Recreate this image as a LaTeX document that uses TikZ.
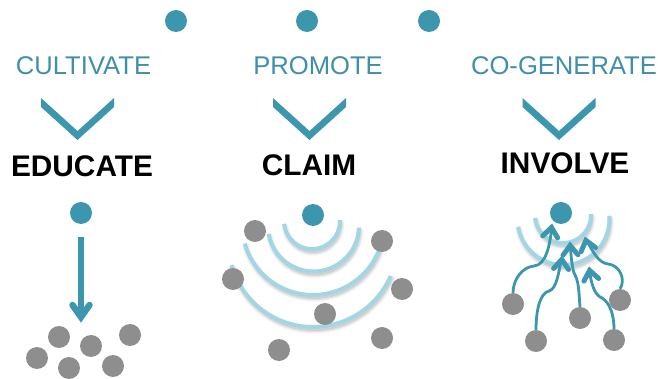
\documentclass[tikz,border=0pt]{standalone}
\usepackage{fontspec}
\setmainfont{Liberation Sans}
\definecolor{teal1}{HTML}{3C97AE}
\definecolor{tealtext}{HTML}{3F8FA8}
\definecolor{grey1}{HTML}{8E8E8E}
\definecolor{lightb}{HTML}{A3D6E4}
\tikzset{
  tealdot/.style={circle,fill=teal1,inner sep=0pt,minimum size=22pt},
  greydot/.style={circle,fill=grey1,inner sep=0pt,minimum size=22pt},
  toplabel/.style={text=tealtext,font=\fontsize{25.6}{28}\selectfont,inner sep=0pt},
  mainlabel/.style={text=black,font=\fontsize{29.8}{32}\selectfont\bfseries,inner sep=0pt},
  chevron/.style={fill=teal1,draw=none},
  bigarrow/.style={draw=teal1,line width=6pt,shorten >=7pt},
  curvearrow/.style={draw=teal1,line width=2.8pt,shorten >=4pt},
  bighead/.style={draw=teal1,line width=6.5pt,line cap=round,miter limit=10},
  smallhead/.style={draw=teal1,line width=5pt,line cap=round,miter limit=10},
  wave/.style={draw=lightb,line width=4pt},
  waveshadow/.style={draw=black,line cap=round}
}
\newcommand{\wavearc}[5]{%
  \foreach \lw/\op in {8/0.025,6/0.04,4/0.06,2/0.07}{
    \draw[waveshadow,line width=\lw pt,opacity=\op,shift={(1,3)}]
      plot[domain=#4:#5,samples=40,smooth] ({#1+#3*cos(\x)},{#2+#3*sin(\x)});
  }
  \draw[wave] plot[domain=#4:#5,samples=40,smooth] ({#1+#3*cos(\x)},{#2+#3*sin(\x)});
}
\newcommand{\chevronat}[1]{%
  \fill[chevron] (#1-36.5,98) -- (#1,131) -- (#1+36.5,98) -- (#1+36.5,107) -- (#1,140) -- (#1-36.5,107) -- cycle;
}
\newcommand{\smallheadat}[2]{%
  \begin{scope}[shift={(#1)},rotate=#2]
    \draw[smallhead] (-13,7.5) -- (-3.5,0) -- (-13,-7.5);
  \end{scope}
}
\begin{document}
\begin{tikzpicture}[x=1pt,y=-1pt]
\useasboundingbox (0,0) rectangle (658,379);
% top dots
\node[tealdot] (t1) at (176,21) {};
\node[tealdot] (t2) at (307,21) {};
\node[tealdot] (t3) at (429,21) {};
% labels
\node[toplabel] (l1) at (83.5,65.5) {CULTIVATE};
\node[toplabel] (l2) at (318,65.5) {PROMOTE};
\node[toplabel] (l3) at (564,65.5) {CO-GENERATE};
\node[mainlabel] (m1) at (82,166.5) {EDUCATE};
\node[mainlabel] (m2) at (309,165) {CLAIM};
\node[mainlabel] (m3) at (565,163) {INVOLVE};
% chevrons
\chevronat{77.5}
\chevronat{309.5}
\chevronat{559}
% column 1
\node[tealdot] (a0) at (81,213) {};
\coordinate (a0s) at (81,237);
\coordinate (a0t) at (81,322);
\draw[bigarrow] (a0s) -- (a0t);
\begin{scope}[shift={(a0t)},rotate=-90]
  \draw[bighead] (-17,8.5) -- (-5,0) -- (-17,-8.5);
\end{scope}
\node[greydot] (a1) at (59,337) {};
\node[greydot] (a2) at (37,358) {};
\node[greydot] (a3) at (69,368) {};
\node[greydot] (a4) at (91,346) {};
\node[greydot] (a5) at (113,366) {};
\node[greydot] (a6) at (130,335) {};
% column 2
\wavearc{312}{221}{28}{-2}{174}
\wavearc{313.5}{226}{45.5}{2}{170}
\wavearc{313}{224}{71}{21}{164}
\wavearc{313}{242.4}{84.6}{23.4}{164.5}
\node[tealdot] (b0) at (313,215) {};
\node[greydot] (b1) at (255,231) {};
\node[greydot] (b2) at (382,241) {};
\node[greydot] (b3) at (233,279) {};
\node[greydot] (b4) at (402,289) {};
\node[greydot] (b5) at (325,314) {};
\node[greydot] (b6) at (382,338) {};
\node[greydot] (b7) at (279,350) {};
% column 3
\wavearc{563}{215}{28}{-2}{174}
\wavearc{563.5}{219}{46}{-4}{170}
\node[tealdot] (c0) at (561,213) {};
\node[greydot] (c1) at (513,304) {};
\node[greydot] (c2) at (536,341) {};
\node[greydot] (c3) at (580,318) {};
\node[greydot] (c4) at (614,340) {};
\node[greydot] (c5) at (620,300) {};
\coordinate (t1c) at (552,224);
\coordinate (t2c) at (562,256);
\coordinate (t3c) at (570,242);
\coordinate (t4c) at (589,267);
\coordinate (t5c) at (585,237);
\draw[curvearrow] (c1.north) .. controls (513,280) and (522,267) .. (534,266) .. controls (546,265) and (550,245) .. (t1c);
\draw[curvearrow] (c2.north) .. controls (536,310) and (540,293) .. (549,291) .. controls (557,289) and (559,270) .. (t2c);
\draw[curvearrow] (c3.north) .. controls (579,295) and (579,282) .. (575,275) .. controls (572,270) and (571,255) .. (t3c);
\draw[curvearrow] (c4.north) .. controls (614,315) and (610,303) .. (602,298) .. controls (594,295) and (591,282) .. (t4c);
\draw[curvearrow] (c5.north) .. controls (626,280) and (620,265) .. (608,264) .. controls (598,263) and (592,250) .. (t5c);
\smallheadat{t1c}{82}
\smallheadat{t2c}{86}
\smallheadat{t3c}{92}
\smallheadat{t4c}{100}
\smallheadat{t5c}{105}
\end{tikzpicture}
\end{document}
